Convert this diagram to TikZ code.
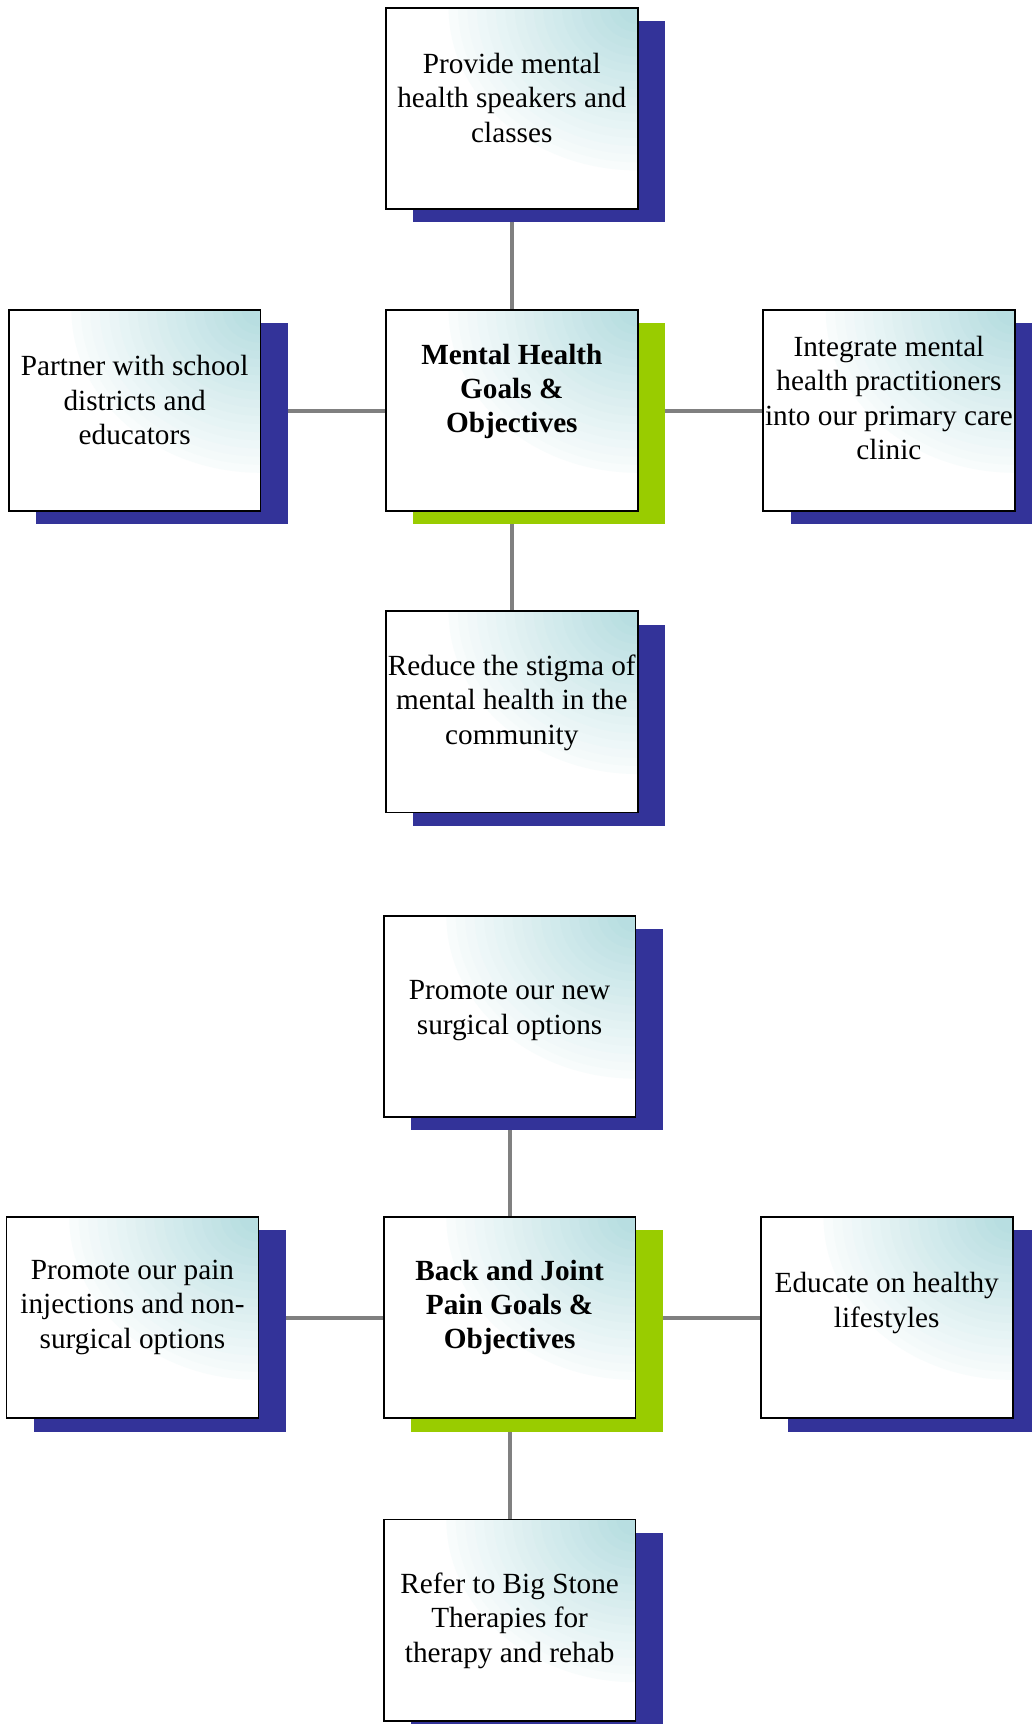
\documentclass[tikz,border=0pt]{standalone}
\usepackage{fontspec}
\setmainfont{Liberation Serif}
\usepackage{tikz}
\usetikzlibrary{shadows, backgrounds}
\definecolor{shadowblue}{RGB}{51,51,153}
\definecolor{shadowgreen}{RGB}{153,204,0}
\definecolor{paleteal}{RGB}{184,222,225}
\definecolor{linkgray}{RGB}{128,128,128}
\tikzset{
  card/.style={draw, line width=0.8pt, fill=white, minimum width=114.5pt, minimum height=91.5pt, inner sep=0pt,
    path picture={
      \foreach \k in {20,...,1} {
        \pgfmathtruncatemacro\tint{min(100,110-5*\k)}
        \fill[paleteal!\tint!white] (path picture bounding box.north east) ellipse ({\k*4.3pt} and {\k*3.7pt});
      }},
    drop shadow={shadow xshift=12.5pt, shadow yshift=-6pt, opacity=1, fill=#1}},
  cardtext/.style={align=center, inner sep=0pt, font=\fontsize{13.3pt}{15.6pt}\selectfont},
  hubtext/.style={cardtext, font=\fontsize{13.3pt}{15.6pt}\selectfont\bfseries},
  link/.style={draw=linkgray, line width=1.9pt}
}
\begin{document}
\begin{tikzpicture}[x=0.5pt, y=-0.5pt]
\useasboundingbox (0,0) rectangle (938,1568);

% Mental health boxes
\node[card=shadowgreen] (mhHub) at (465.5,373.5) {};
\node[card=shadowblue] (mhTop) at (465.5,98.5) {};
\node[card=shadowblue] (mhLeft) at (122.5,373.5) {};
\node[card=shadowblue] (mhRight) at (808.5,373.5) {};
\node[card=shadowblue] (mhBottom) at (465.5,647.5) {};

% Mental health texts
\node[hubtext] (mhHubText) at (465.5,356) {Mental Health\\Goals \&\\Objectives};
\node[cardtext] (mhTopText) at (465.5,89) {Provide mental\\health speakers and\\classes};
\node[cardtext] (mhLeftText) at (122.5,364) {Partner with school\\districts and\\educators};
\node[cardtext] (mhRightText) at (808.5,362) {Integrate mental\\health practitioners\\into our primary care\\clinic};
\node[cardtext] (mhBottomText) at (465.5,639) {Reduce the stigma of\\mental health in the\\community};

% Back and joint pain boxes
\node[card=shadowgreen] (bjHub) at (463.5,1198.5) {};
\node[card=shadowblue] (bjTop) at (463.5,924.5) {};
\node[card=shadowblue] (bjLeft) at (120.5,1198.5) {};
\node[card=shadowblue] (bjRight) at (806.5,1198.5) {};
\node[card=shadowblue] (bjBottom) at (463.5,1473.5) {};

% Back and joint pain texts
\node[hubtext] (bjHubText) at (463.5,1189) {Back and Joint\\Pain Goals \&\\Objectives};
\node[cardtext] (bjTopText) at (463.5,919) {Promote our new\\surgical options};
\node[cardtext] (bjLeftText) at (120.5,1189) {Promote our pain\\injections and non-\\surgical options};
\node[cardtext] (bjRightText) at (806.5,1185) {Educate on healthy\\lifestyles};
\node[cardtext] (bjBottomText) at (463.5,1474) {Refer to Big Stone\\Therapies for\\therapy and rehab};

% Connectors
\begin{scope}[on background layer]
\draw[link] (mhTop) -- (mhHub) -- (mhBottom);
\draw[link] (mhLeft) -- (mhHub) -- (mhRight);
\draw[link] (bjTop) -- (bjHub) -- (bjBottom);
\draw[link] (bjLeft) -- (bjHub) -- (bjRight);
\end{scope}
\end{tikzpicture}
\end{document}
